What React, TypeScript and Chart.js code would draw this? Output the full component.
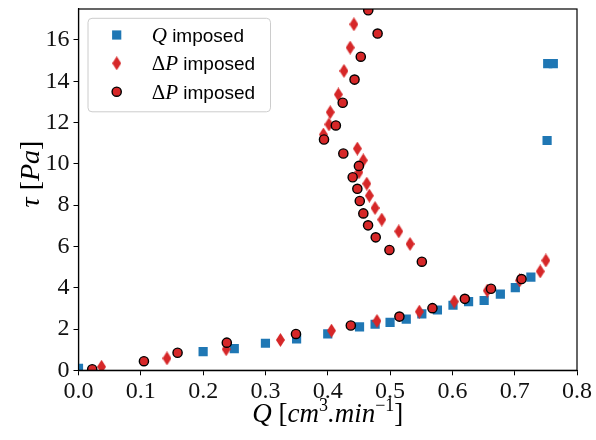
import React, { useEffect, useRef } from 'react';
import { Chart, registerables } from 'chart.js';

Chart.register(...registerables);

// ---- data ----
const xTicks = [0, 0.1, 0.2, 0.3, 0.4, 0.5, 0.6, 0.7, 0.8];
const yTicks = [0, 2, 4, 6, 8, 10, 12, 14, 16];

// Q imposed (blue squares)
const qImpQ = [0, 0.2, 0.25, 0.3, 0.35, 0.4, 0.451, 0.476, 0.5, 0.526, 0.551, 0.576, 0.601, 0.626, 0.651, 0.677, 0.701, 0.726, 0.752, 0.753, 0.762];
const qImpTau = [0.1, 0.9, 1.05, 1.31, 1.52, 1.76, 2.1, 2.23, 2.32, 2.48, 2.73, 2.92, 3.15, 3.33, 3.38, 3.69, 4.0, 4.51, 11.13, 14.85, 14.85];

// ΔP imposed (red diamonds)
const dpDiaQ = [0.037, 0.142, 0.237, 0.324, 0.406, 0.479, 0.547, 0.603, 0.656, 0.708, 0.741, 0.75,
  0.442, 0.436, 0.426, 0.417, 0.404, 0.402, 0.393, 0.4475, 0.457, 0.45, 0.4626, 0.4668, 0.4759, 0.4867, 0.514, 0.532];
const dpDiaTau = [0.17, 0.58, 1.02, 1.47, 1.92, 2.39, 2.84, 3.33, 3.86, 4.35, 4.79, 5.32,
  16.76, 15.63, 14.5, 13.36, 12.5, 11.91, 11.42, 10.74, 10.17, 9.59, 9.04, 8.46, 7.86, 7.3, 6.73, 6.12];

// ΔP imposed (red circles)
const dpCirQ = [0.022, 0.105, 0.159, 0.238, 0.349, 0.437, 0.515, 0.568, 0.62, 0.662, 0.711,
  0.465, 0.48, 0.453, 0.443, 0.424, 0.413, 0.394, 0.425, 0.45, 0.44, 0.4475, 0.4514, 0.4571, 0.4647, 0.477, 0.499, 0.551];
const dpCirTau = [0.05, 0.44, 0.85, 1.34, 1.76, 2.17, 2.6, 3.01, 3.46, 3.95, 4.42,
  17.44, 16.31, 15.19, 14.08, 12.96, 11.86, 11.18, 10.5, 9.9, 9.35, 8.79, 8.2, 7.6, 7.02, 6.44, 5.83, 5.26];

const seriesLabels = ['Q imposed', 'ΔP imposed', 'ΔP imposed'];

const BLUE = '#1f77b4';
const RED = '#d62728';

type Seg = { t: string; f: string; dy?: number };

function drawSegs(ctx: CanvasRenderingContext2D, segs: Seg[], x: number, y: number, align: 'left' | 'center') {
  let total = 0;
  const widths = segs.map((s) => {
    ctx.font = s.f;
    const w = ctx.measureText(s.t).width;
    total += w;
    return w;
  });
  let cx = align === 'center' ? x - total / 2 : x;
  ctx.textAlign = 'left';
  ctx.textBaseline = 'alphabetic';
  segs.forEach((s, i) => {
    ctx.font = s.f;
    ctx.fillText(s.t, cx, y + (s.dy || 0));
    cx += widths[i];
  });
}

function makeDiamond(w: number, h: number, color: string) {
  const c = document.createElement('canvas');
  c.width = w;
  c.height = h;
  const g = c.getContext('2d')!;
  g.fillStyle = color;
  g.beginPath();
  g.moveTo(w / 2, 0);
  g.lineTo(w, h / 2);
  g.lineTo(w / 2, h);
  g.lineTo(0, h / 2);
  g.closePath();
  g.fill();
  return c;
}

const zeroPad = (s: any) => {
  s.paddingTop = 0;
  s.paddingBottom = 0;
  s.paddingLeft = 0;
  s.paddingRight = 0;
};

export default function App() {
  const ref = useRef<HTMLCanvasElement>(null);

  useEffect(() => {
    const canvas = ref.current;
    if (!canvas) return;
    const diamond = makeDiamond(9, 14, RED);

    const serifI = (s: number) => `italic ${s}px "Liberation Serif"`;
    const serifU = (s: number) => `${s}px "Liberation Serif"`;
    const sans = (s: number) => `${s}px "Liberation Sans"`;

    const overlay = {
      id: 'overlay',
      afterDraw(chart: any) {
        const ctx: CanvasRenderingContext2D = chart.ctx;
        const a = chart.chartArea;
        ctx.save();
        // frame
        ctx.strokeStyle = '#000';
        ctx.lineWidth = 1.2;
        ctx.strokeRect(a.left, a.top, a.right - a.left, a.bottom - a.top);

        // legend
        const lx = a.left + 9.5;
        const ly = a.top + 9.3;
        const lw = 182.5;
        const lh = 93.5;
        ctx.beginPath();
        (ctx as any).roundRect(lx, ly, lw, lh, 4);
        ctx.fillStyle = 'rgba(255,255,255,0.8)';
        ctx.fill();
        ctx.strokeStyle = '#cccccc';
        ctx.lineWidth = 1;
        ctx.stroke();

        const mx = a.left + 38.2;
        const tx = a.left + 73.2;
        const rows = [a.top + 26, a.top + 54.3, a.top + 82.7];
        // square
        ctx.fillStyle = BLUE;
        ctx.fillRect(mx - 4.6, rows[0] - 4.6, 9.2, 9.2);
        // diamond
        ctx.drawImage(diamond, mx - 4.5, rows[1] - 7);
        // circle
        ctx.beginPath();
        ctx.arc(mx, rows[2], 4.6, 0, Math.PI * 2);
        ctx.fillStyle = RED;
        ctx.fill();
        ctx.strokeStyle = '#000';
        ctx.lineWidth = 1.4;
        ctx.stroke();

        ctx.fillStyle = '#000';
        drawSegs(ctx, [
          { t: 'Q', f: serifI(21) },
          { t: ' imposed', f: sans(19) },
        ], tx, rows[0] + 7, 'left');
        for (let r = 1; r < 3; r++) {
          drawSegs(ctx, [
            { t: 'Δ', f: serifU(21) },
            { t: 'P', f: serifI(21) },
            { t: ' imposed', f: sans(19) },
          ], tx, rows[r] + 7, 'left');
        }

        // axis titles
        ctx.fillStyle = '#000';
        drawSegs(ctx, [
          { t: 'Q', f: serifI(27) },
          { t: ' [', f: serifU(27) },
          { t: 'cm', f: serifI(27) },
          { t: '3', f: serifU(18), dy: -11 },
          { t: '.min', f: serifI(27) },
          { t: '−1', f: serifU(18), dy: -11 },
          { t: ']', f: serifU(27) },
        ], (a.left + a.right) / 2, 422, 'center');

        ctx.translate(39, 174);
        ctx.rotate(-Math.PI / 2);
        drawSegs(ctx, [
          { t: 'τ', f: serifI(28) },
          { t: ' [', f: serifU(28) },
          { t: 'Pa', f: serifI(28) },
          { t: ']', f: serifU(28) },
        ], 0, 0, 'center');
        ctx.restore();
      },
    };

    const tickFont = { family: 'Liberation Serif', size: 24 };

    const chart = new Chart(canvas, {
      type: 'scatter',
      data: {
        datasets: [
          {
            label: seriesLabels[0],
            data: qImpQ.map((q, i) => ({ x: q, y: qImpTau[i] })),
            pointStyle: 'rect',
            pointRadius: 6.5,
            pointHoverRadius: 6.5,
            backgroundColor: BLUE,
            borderColor: BLUE,
            borderWidth: 0,
            order: 3,
            clip: 0,
          },
          {
            label: seriesLabels[1],
            data: dpDiaQ.map((q, i) => ({ x: q, y: dpDiaTau[i] })),
            pointStyle: diamond as any,
            pointRadius: 7,
            backgroundColor: RED,
            borderColor: RED,
            borderWidth: 0,
            order: 2,
            clip: 0,
          },
          {
            label: seriesLabels[2],
            data: dpCirQ.map((q, i) => ({ x: q, y: dpCirTau[i] })),
            pointStyle: 'circle',
            pointRadius: 4.6,
            pointHoverRadius: 4.6,
            backgroundColor: RED,
            borderColor: '#000',
            borderWidth: 1.4,
            order: 1,
            clip: 0,
          },
        ],
      },
      options: {
        animation: false,
        responsive: false,
        events: [],
        layout: { padding: { top: 9, right: 19, left: 0, bottom: 0 } },
        plugins: {
          legend: { display: false },
          tooltip: { enabled: false },
        },
        scales: {
          x: {
            type: 'linear',
            min: 0,
            max: 0.8,
            afterBuildTicks: (s: any) => {
              s.ticks = xTicks.map((v) => ({ value: v }));
            },
            afterFit: (s: any) => {
              s.height = 69.7;
              zeroPad(s);
            },
            ticks: {
              callback: (v: any) => Number(v).toFixed(1),
              font: tickFont,
              color: '#111',
              padding: 2,
              maxRotation: 0,
              autoSkip: false,
            },
            grid: { display: true, drawOnChartArea: false, drawTicks: true, tickLength: 5, color: '#000', lineWidth: 1 },
            border: { display: true, color: '#000', width: 1.2 },
          },
          y: {
            type: 'linear',
            min: 0,
            max: 17.5,
            afterBuildTicks: (s: any) => {
              s.ticks = yTicks.map((v) => ({ value: v }));
            },
            afterFit: (s: any) => {
              s.width = 78.5;
              zeroPad(s);
            },
            ticks: {
              callback: (v: any) => String(v),
              font: tickFont,
              color: '#111',
              padding: 4,
              autoSkip: false,
            },
            grid: { display: true, drawOnChartArea: false, drawTicks: true, tickLength: 5, color: '#000', lineWidth: 1 },
            border: { display: true, color: '#000', width: 1.2 },
          },
        },
      },
      plugins: [overlay],
    } as any);

    return () => chart.destroy();
  }, []);

  return (
    <div style={{ position: 'absolute', left: 0, top: 0, width: 596, height: 440, background: '#fff' }}>
      <canvas ref={ref} width={596} height={440} style={{ display: 'block' }} />
    </div>
  );
}
